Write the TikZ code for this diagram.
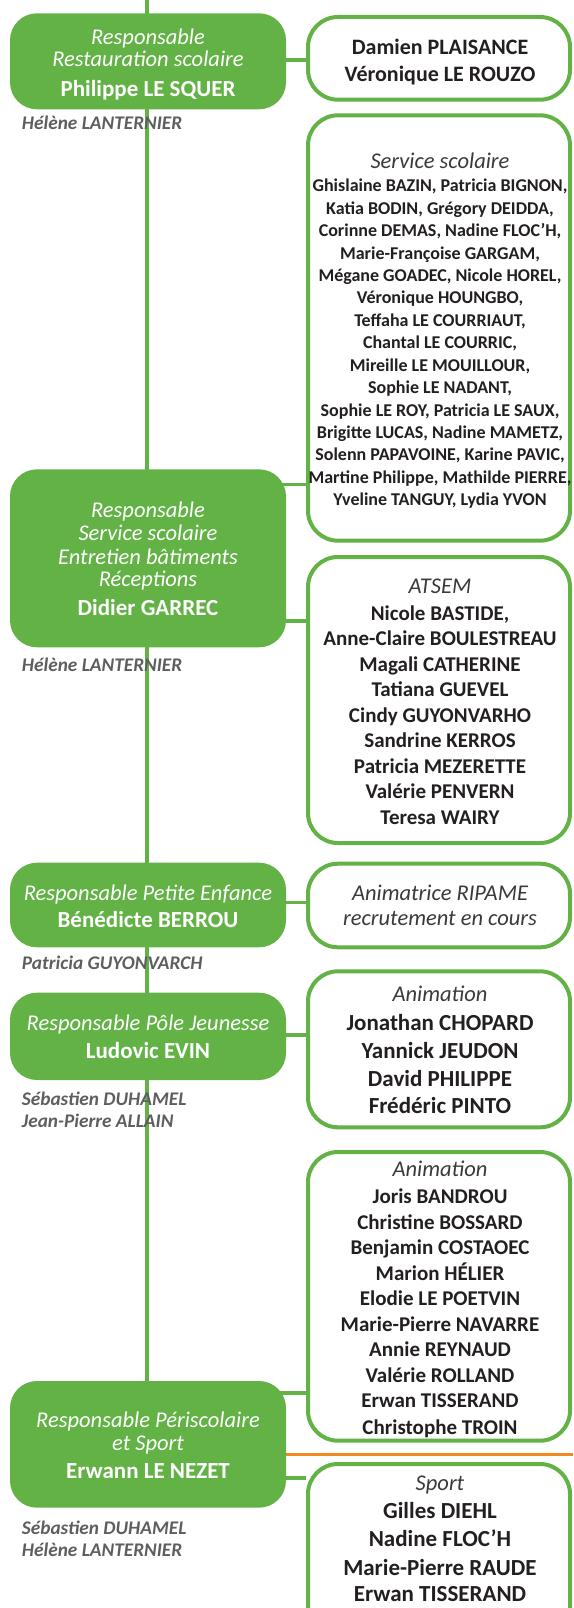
\documentclass[tikz,border=0pt]{standalone}
\usepackage{fontspec}
\setmainfont{Carlito}
\usetikzlibrary{backgrounds}
\definecolor{grn}{HTML}{62B246}
\definecolor{org}{HTML}{F18A21}
\definecolor{gry}{HTML}{5D5E60}
\definecolor{ink}{HTML}{231F20}
\definecolor{hdr}{HTML}{3A3A3A}
\begin{document}
\begin{tikzpicture}[x=1pt,y=-1pt,
 lbox/.style={fill=grn, rounded corners=27pt, minimum width=276pt, inner sep=0pt},
 rbox/.style={draw=grn, line width=4pt, fill=white, rounded corners=30pt, minimum width=262pt, inner sep=0pt},
 conn/.style={draw=grn, line width=3.5pt},
 ltit/.style={anchor=base, text=white, font=\fontsize{22.5}{27}\selectfont\itshape, inner sep=0pt},
 lnam/.style={anchor=base, text=white, font=\fontsize{23}{28}\selectfont\bfseries, inner sep=0pt},
 rtit/.style={anchor=base, text=hdr, font=\fontsize{22.5}{27}\selectfont\itshape, inner sep=0pt},
 rnam/.style={anchor=base, text=ink, font=\fontsize{21}{25}\selectfont\bfseries, inner sep=0pt},
 rbig/.style={anchor=base, text=ink, font=\fontsize{23}{28}\selectfont\bfseries, inner sep=0pt},
 rmid/.style={anchor=base, text=ink, font=\fontsize{22}{27}\selectfont\bfseries, inner sep=0pt},
 rsml/.style={anchor=base, text=ink, font=\fontsize{18}{22}\selectfont\bfseries, inner sep=0pt},
 aide/.style={anchor=base west, text=gry, font=\fontsize{19.3}{23}\selectfont\bfseries\itshape, inner sep=0pt},
]
\useasboundingbox (0,0) rectangle (573,1608);

% left boxes
\node[lbox, minimum height=96pt] (A) at (148,61.3) {};
\node[lbox, minimum height=178pt] (B) at (148,558.3) {};
\node[lbox, minimum height=84.6pt] (C) at (148,905) {};
\node[lbox, minimum height=87.3pt] (D) at (148,1036.35) {};
\node[lbox, minimum height=126.7pt] (E) at (148,1444.35) {};

% right boxes
\node[rbox, minimum height=82.7pt] (R1) at (439,58.35) {};
\node[rbox, minimum height=425.4pt] (R2) at (439,328) {};
\node[rbox, minimum height=286pt] (R3) at (439,700) {};
\node[rbox, minimum height=83.6pt] (R4) at (439,905.5) {};
\node[rbox, minimum height=156pt] (R5) at (439,1049.3) {};
\node[rbox, minimum height=288.7pt] (R6) at (439,1296.35) {};
\node[rbox, minimum height=176pt] (R7) at (439,1552) {};

% connectors
\begin{pgfonlayer}{background}
\coordinate (top) at (147,0);
\draw[conn] (top) -- (top |- E.north);
\coordinate (y1) at (0,60);
\coordinate (y2) at (0,484.5);
\coordinate (y3) at (0,621);
\coordinate (y4) at (0,902.7);
\coordinate (y5) at (0,1035);
\coordinate (y6) at (0,1393);
\coordinate (y7) at (0,1478);
\coordinate (yo) at (573,1454.5);
\draw[conn] (A.center |- y1) -- (R1.west |- y1);
\draw[conn] (B.center |- y2) -- (R2.west |- y2);
\draw[conn] (B.center |- y3) -- (R3.west |- y3);
\draw[conn] (C.center |- y4) -- (R4.west |- y4);
\draw[conn] (D.center |- y5) -- (R5.west |- y5);
\draw[conn] (E.center |- y6) -- (R6.west |- y6);
\draw[conn] (E.center |- y7) -- (R7.west |- y7);
\draw[org, line width=3pt] (E.east |- yo) -- (yo);
\end{pgfonlayer}

% box A
\node[ltit] (At1) at (148,44.3) {Responsable};
\node[ltit] (At2) at (148,66.7) {Restauration scolaire};
\node[lnam] (An) at (148,96.7) {Philippe LE SQUER};
\node[aide] (Aa) at (21.7,130) {Hélène LANTERNIER};

% R1
\node[rmid] (R1a) at (440,55) {Damien PLAISANCE};
\node[rmid] (R1b) at (440,81.7) {Véronique LE ROUZO};

% R2
\node[rtit] (R2t) at (440,168.3) {Service scolaire};
\foreach \y/\t [count=\i] in {
 191.7/{Ghislaine BAZIN, Patricia BIGNON,},
 214.1/{Katia BODIN, Grégory DEIDDA,},
 236.6/{Corinne DEMAS, Nadine FLOC’H,},
 259.0/{Marie-Françoise GARGAM,},
 281.4/{Mégane GOADEC, Nicole HOREL,},
 303.9/{Véronique HOUNGBO,},
 326.3/{Teffaha LE COURRIAUT,},
 348.7/{Chantal LE COURRIC,},
 371.1/{Mireille LE MOUILLOUR,},
 393.6/{Sophie LE NADANT,},
 416.0/{Sophie LE ROY, Patricia LE SAUX,},
 438.4/{Brigitte LUCAS, Nadine MAMETZ,},
 460.9/{Solenn PAPAVOINE, Karine PAVIC,},
 483.3/{Martine Philippe, Mathilde PIERRE,},
 505.7/{Yveline TANGUY, Lydia YVON}}
 \node[rsml] (R2n\i) at (440,\y) {\t};

% box B
\node[ltit] (Bt1) at (148,517) {Responsable};
\node[ltit] (Bt2) at (148,540.7) {Service scolaire};
\node[ltit] (Bt3) at (148,564) {Entretien bâtiments};
\node[ltit] (Bt4) at (148,586.7) {Réceptions};
\node[lnam] (Bn) at (148,615.7) {Didier GARREC};
\node[aide] (Ba) at (21.7,671) {Hélène LANTERNIER};

% R3
\node[rtit] (R3t) at (440,593.3) {ATSEM};
\foreach \y/\t [count=\i] in {
 620/{Nicole BASTIDE,},
 645.5/{Anne-Claire BOULESTREAU},
 671/{Magali CATHERINE},
 696.5/{Tatiana GUEVEL},
 722/{Cindy GUYONVARHO},
 747.5/{Sandrine KERROS},
 773/{Patricia MEZERETTE},
 798.5/{Valérie PENVERN},
 824/{Teresa WAIRY}}
 \node[rnam] (R3n\i) at (440,\y) {\t};

% box C
\node[ltit] (Ct) at (148,900) {Responsable Petite Enfance};
\node[lnam] (Cn) at (148,927.3) {Bénédicte BERROU};
\node[aide] (Ca) at (21.7,969.3) {Patricia GUYONVARCH};

% R4
\node[rtit] (R4a) at (440,900) {Animatrice RIPAME};
\node[rtit] (R4b) at (440,925) {recrutement en cours};

% box D
\node[ltit] (Dt) at (148,1030.7) {Responsable Pôle Jeunesse};
\node[lnam] (Dn) at (148,1058.3) {Ludovic EVIN};
\node[aide] (Da1) at (21.7,1105) {Sébastien DUHAMEL};
\node[aide] (Da2) at (21.7,1127.3) {Jean-Pierre ALLAIN};

% R5
\node[rtit] (R5t) at (440,1001.7) {Animation};
\foreach \y/\t [count=\i] in {
 1030/{Jonathan CHOPARD},
 1058.3/{Yannick JEUDON},
 1086/{David PHILIPPE},
 1113.3/{Frédéric PINTO}}
 \node[rbig] (R5n\i) at (440,\y) {\t};

% R6
\node[rtit] (R6t) at (440,1176.7) {Animation};
\foreach \y/\t [count=\i] in {
 1203.3/{Joris BANDROU},
 1229/{Christine BOSSARD},
 1254.5/{Benjamin COSTAOEC},
 1280/{Marion HÉLIER},
 1305.5/{Elodie LE POETVIN},
 1331/{Marie-Pierre NAVARRE},
 1356.5/{Annie REYNAUD},
 1382/{Valérie ROLLAND},
 1407.5/{Erwan TISSERAND},
 1434/{Christophe TROIN}}
 \node[rnam] (R6n\i) at (440,\y) {\t};

% box E
\node[ltit] (Et1) at (148,1427) {Responsable Périscolaire};
\node[ltit] (Et2) at (148,1450) {et Sport};
\node[lnam] (En) at (148,1478.3) {Erwann LE NEZET};
\node[aide] (Ea1) at (21.7,1534) {Sébastien DUHAMEL};
\node[aide] (Ea2) at (21.7,1556.7) {Hélène LANTERNIER};

% R7
\node[rtit] (R7t) at (440,1490.7) {Sport};
\foreach \y/\t [count=\i] in {
 1518/{Gilles DIEHL},
 1546.7/{Nadine FLOC’H},
 1575/{Marie-Pierre RAUDE},
 1601.7/{Erwan TISSERAND}}
 \node[rbig] (R7n\i) at (440,\y) {\t};
\end{tikzpicture}
\end{document}
